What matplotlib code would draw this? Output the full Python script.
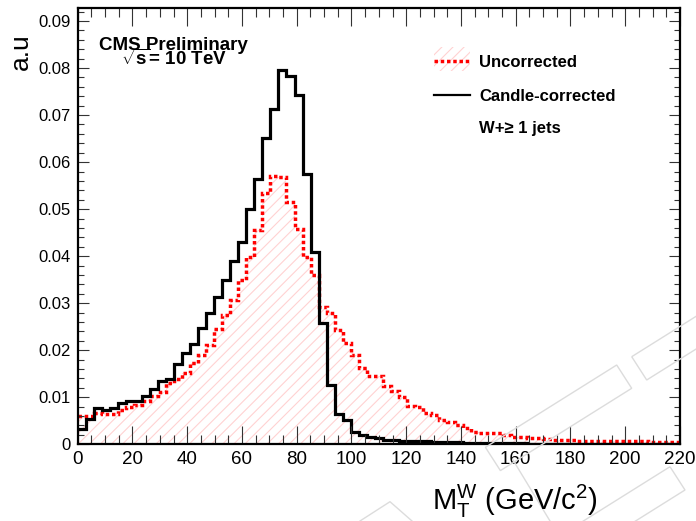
import numpy as np
import matplotlib
matplotlib.use("Agg")
import matplotlib.pyplot as plt
from matplotlib.patches import Polygon, Rectangle
from matplotlib.lines import Line2D
from matplotlib.ticker import MultipleLocator

plt.rcParams['font.family'] = ['Liberation Sans', 'DejaVu Sans']
plt.rcParams['mathtext.fontset'] = 'custom'
plt.rcParams['mathtext.rm'] = 'Liberation Sans'
plt.rcParams['mathtext.it'] = 'Liberation Sans:italic'
plt.rcParams['mathtext.bf'] = 'Liberation Sans:bold'
plt.rcParams['hatch.linewidth'] = 0.8

# binning: 75 bins between 0 and 220 GeV
x_min, x_max, n_bins = 0, 220, 75
edges = np.linspace(x_min, x_max, n_bins + 1)

# uncorrected M_T (red, dotted + hatch)
uncorrected = [
    0.0061, 0.0061, 0.0066, 0.0065, 0.0064, 0.0072, 0.0079, 0.0084, 0.0092, 0.0102,
    0.0112, 0.0130, 0.0139, 0.0151, 0.0172, 0.0189, 0.0211, 0.0245, 0.0275, 0.0307,
    0.0350, 0.0398, 0.0456, 0.0534, 0.0571, 0.0568, 0.0516, 0.0457, 0.0398, 0.0359,
    0.0291, 0.0280, 0.0244, 0.0215, 0.0190, 0.0162, 0.0146, 0.0145, 0.0123, 0.0113,
    0.0101, 0.0082, 0.0080, 0.0066, 0.0062, 0.0051, 0.0047, 0.0042, 0.0035, 0.0027,
    0.0025, 0.0025, 0.0023, 0.0020, 0.0016, 0.0016, 0.0013, 0.0013, 0.0012, 0.0010,
    0.0009, 0.0009, 0.0008, 0.0008, 0.0008, 0.0007, 0.0007, 0.0007, 0.0006, 0.0006,
    0.0006, 0.0005, 0.0005, 0.0005, 0.0004,
]

# candle-corrected M_T (black)
corrected = [
    0.0033, 0.0053, 0.0077, 0.0073, 0.0077, 0.0088, 0.0091, 0.0092, 0.0103, 0.0118,
    0.0135, 0.0139, 0.0171, 0.0194, 0.0213, 0.0247, 0.0279, 0.0313, 0.0349, 0.0389,
    0.0430, 0.0501, 0.0564, 0.0652, 0.0713, 0.0796, 0.0784, 0.0743, 0.0574, 0.0408,
    0.0258, 0.0126, 0.0065, 0.0051, 0.0027, 0.0020, 0.0015, 0.0013, 0.0010, 0.0009,
    0.0008, 0.0007, 0.0006, 0.0006, 0.0005, 0.0005, 0.0004, 0.0004, 0.0003, 0.0003,
    0.0003, 0.0002, 0.0002, 0.0002, 0.0002, 0.0002, 0.0001, 0.0001, 0.0001, 0.0001,
    0.0001, 0.0001, 0.0001, 0.0001, 0.0001, 0.0001, 0.0001, 0.0001, 0.0001, 0.0001,
    0.0001, 0.0001, 0.0001, 0.0001, 0.0001,
]

legend_labels = ["Uncorrected", "Candle-corrected", "W+\u2265 1 jets"]

W, H = 696, 521
fig = plt.figure(figsize=(W / 100, H / 100), dpi=100)

def px(x, y):
    return (x / W, 1 - y / H)

ax = fig.add_axes([77.7 / W, 1 - 444.3 / H, (680 - 77.7) / W, (444.3 - 8.3) / H])

hatch_col = '#ffd2d2'
red_dots = (0, (1.0, 0.8))
red_fill = np.append(uncorrected, uncorrected[-1])
ax.fill_between(edges, red_fill, step='post', facecolor='none',
                edgecolor=hatch_col, hatch='///', linewidth=0)
ax.stairs(uncorrected, edges, color='#ff0000', lw=2.5,
          linestyle=red_dots, baseline=None)
ax.stairs(corrected, edges, color='black', lw=2.3, baseline=None)

ax.set_xlim(x_min, x_max)
ax.set_ylim(0, 0.0927)

ax.xaxis.set_major_locator(MultipleLocator(20))
ax.xaxis.set_minor_locator(MultipleLocator(5))
ax.yaxis.set_major_locator(MultipleLocator(0.01))
ax.yaxis.set_minor_locator(MultipleLocator(0.002))
ax.yaxis.set_major_formatter(lambda v, p: "0" if abs(v) < 1e-9 else f"{v:.2f}")

ax.tick_params(axis='both', which='both', direction='in', top=True, right=True,
               width=0.8, color='#333333')
ax.tick_params(axis='x', which='major', length=12.7, labelsize=13.5, pad=5)
ax.tick_params(axis='x', which='minor', length=6.5)
ax.tick_params(axis='y', which='major', length=8, labelsize=12, pad=5)
ax.tick_params(axis='y', which='minor', length=4.3)
for s in ax.spines.values():
    s.set_linewidth(1.6)
ax.get_yticklabels()[0].set_fontsize(9.5)

# axis titles
fig.text(*px(598, 510), r'$\mathregular{M_T^W}$ (GeV/c$^{2}$)', fontsize=21,
         ha='right', va='baseline')
fig.text(*px(20.5, 33), 'a.u', fontsize=19, rotation=90, ha='center', va='top')

# CMS labels
fig.text(*px(99, 50), 'CMS Preliminary', fontsize=13.5, fontweight='bold',
         va='baseline')
fig.text(*px(121, 65), r'$\sqrt{\mathbf{s}}$= 10 TeV', fontsize=13.5,
         fontweight='bold', va='baseline')

# legend
fig.patches.append(Rectangle(px(434, 71), 36 / W, 24 / H, transform=fig.transFigure,
                             facecolor='none', edgecolor=hatch_col, hatch='///',
                             linewidth=0))
fig.lines.append(Line2D([434 / W, 470 / W], [1 - 60.7 / H] * 2, transform=fig.transFigure,
                        color='#ff0000', lw=2.5, linestyle=red_dots))
fig.lines.append(Line2D([434 / W, 470 / W], [1 - 95 / H] * 2, transform=fig.transFigure,
                        color='black', lw=1.6))
for lab, yy in zip(legend_labels, [60.7, 95, 127.5]):
    fig.text(*px(479, yy), lab, fontsize=12, fontweight='bold', va='center_baseline')

# faint watermark outlines
wm = '#dcdcdc'
shapes = [
    [(485.4, 447.3), (616.7, 365), (631.7, 388.3), (500.4, 470.6)],
    [(631.7, 356.7), (716.4, 303.6), (731.4, 326.9), (646.7, 380)],
    [(670, 466.7), (685, 490), (558, 569.6), (543, 546.3)],
]
for sh in shapes:
    fig.patches.append(Polygon([px(*p) for p in sh], closed=True, fill=False,
                               edgecolor=wm, lw=1, transform=fig.transFigure))
for seg in [[(513, 460), (550, 521)], [(360, 521), (390, 501.7), (412, 521)]]:
    xs, ys = zip(*[px(*p) for p in seg])
    fig.lines.append(Line2D(xs, ys, transform=fig.transFigure, color=wm, lw=1))

fig.savefig('out.png', dpi=100)
